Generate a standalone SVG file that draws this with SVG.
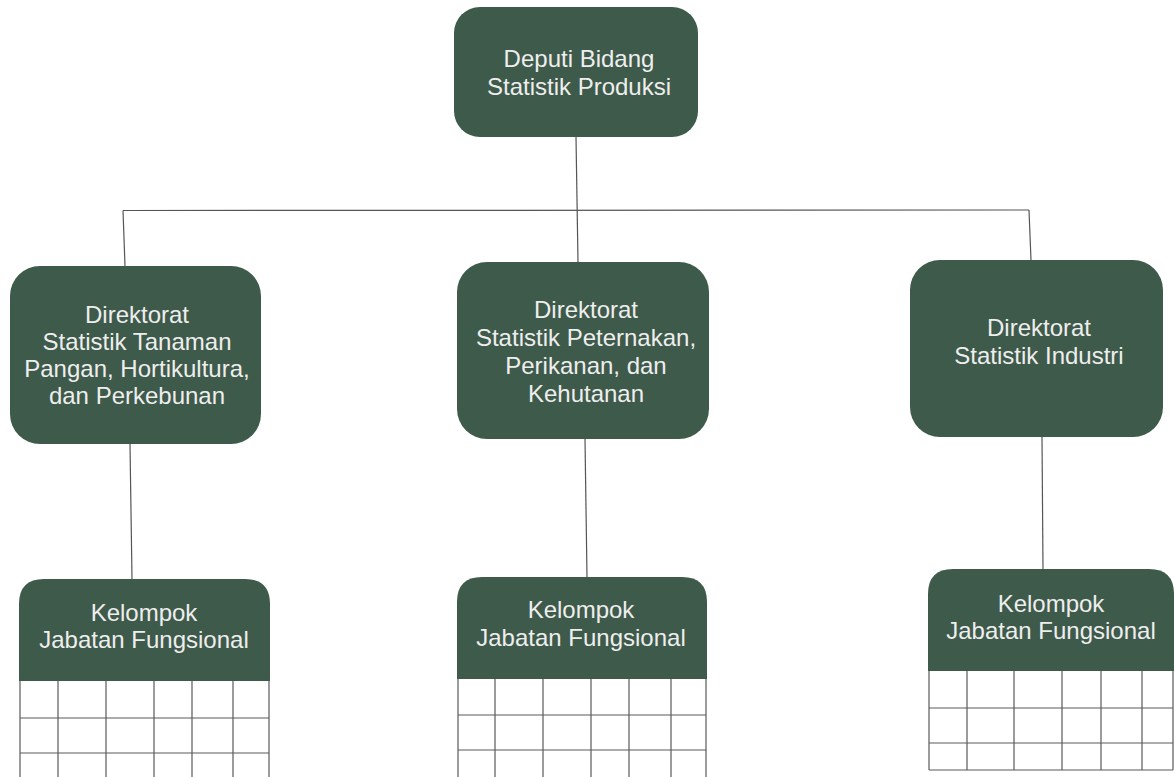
<svg xmlns="http://www.w3.org/2000/svg" width="1174" height="777" viewBox="0 0 1174 777">
<style>
.box{fill:#3e5a4a}
.t{font-family:"Liberation Sans",Arial,sans-serif;font-size:24px;fill:#eeeeee;text-anchor:middle}
.c{fill:none;stroke:#555;stroke-width:1.2}
.g{fill:none;stroke:#5a5a5a;stroke-width:1.2}
</style>
<rect width="1174" height="777" fill="#ffffff"/>
<g id="connectors">
<path class="c" d="M576,137 L578,262"/>
<path class="c" d="M123,210.5 L1029,210"/>
<path class="c" d="M123,210.5 L125,266"/>
<path class="c" d="M1029,210 L1031,260"/>
<path class="c" d="M130,444 L132,579"/>
<path class="c" d="M585,439 L587,577"/>
<path class="c" d="M1042,437 L1043,569"/>
</g>
<g id="deputi">
<rect class="box" x="454" y="7" width="244" height="130" rx="26"/>
<text class="t" x="579" y="67">Deputi Bidang</text>
<text class="t" x="579" y="95">Statistik Produksi</text>
</g>
<g id="dir-tanaman">
<rect class="box" x="10" y="266" width="251" height="178" rx="30"/>
<text class="t" x="137" y="323">Direktorat</text>
<text class="t" x="137" y="350">Statistik Tanaman</text>
<text class="t" x="137" y="377">Pangan, Hortikultura,</text>
<text class="t" x="137" y="404">dan Perkebunan</text>
</g>
<g id="dir-peternakan">
<rect class="box" x="457" y="262" width="252" height="177" rx="30"/>
<text class="t" x="586" y="318">Direktorat</text>
<text class="t" x="586" y="346">Statistik Peternakan,</text>
<text class="t" x="586" y="374">Perikanan, dan</text>
<text class="t" x="586" y="402">Kehutanan</text>
</g>
<g id="dir-industri">
<rect class="box" x="910" y="260" width="253" height="177" rx="30"/>
<text class="t" x="1039" y="336">Direktorat</text>
<text class="t" x="1039" y="364">Statistik Industri</text>
</g>
<g id="kjf-1">
<path class="box" d="M19,681 L19,604 Q19,579 44,579 L245,579 Q270,579 270,604 L270,681 Z"/>
<text class="t" x="144" y="621">Kelompok</text>
<text class="t" x="144" y="648">Jabatan Fungsional</text>
<path class="g" d="M20,681 V777 M58,681 V777 M106,681 V777 M154,681 V777 M192,681 V777 M233,681 V777 M269,681 V777 M20,718 H269 M20,753 H269"/>
</g>
<g id="kjf-2">
<path class="box" d="M457,679 L457,602 Q457,577 482,577 L682,577 Q707,577 707,602 L707,679 Z"/>
<text class="t" x="581" y="618">Kelompok</text>
<text class="t" x="581" y="646">Jabatan Fungsional</text>
<path class="g" d="M458,679 V777 M495,679 V777 M543,679 V777 M591,679 V777 M629,679 V777 M671,679 V777 M706,679 V777 M458,715 H706 M458,750 H706"/>
</g>
<g id="kjf-3">
<path class="box" d="M928,671 L928,594 Q928,569 953,569 L1149,569 Q1174,569 1174,594 L1174,671 Z"/>
<text class="t" x="1051" y="612">Kelompok</text>
<text class="t" x="1051" y="639">Jabatan Fungsional</text>
<path class="g" d="M929,671 V770 M967,671 V770 M1014,671 V770 M1062,671 V770 M1101,671 V770 M1142,671 V770 M1173,671 V770 M929,708 H1173 M929,743 H1173 M929,770 H1173"/>
</g>
</svg>
